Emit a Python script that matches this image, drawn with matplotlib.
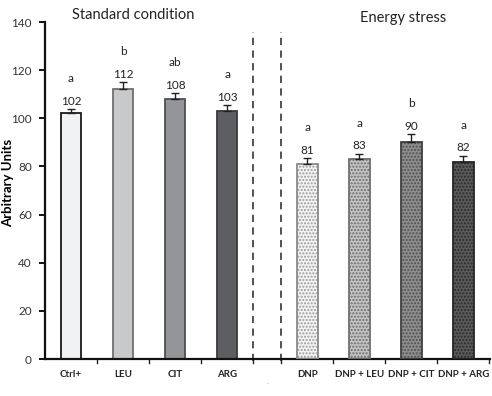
import matplotlib
matplotlib.use("Agg")
import matplotlib.pyplot as plt
import numpy as np

plt.rcParams['font.family'] = ['Lato', 'DejaVu Sans']
plt.rcParams['hatch.linewidth'] = 1.0

categories = ["Ctrl+", "LEU", "CIT", "ARG", "DNP", "DNP + LEU", "DNP + CIT", "DNP + ARG"]
values = [102, 112, 108, 103, 81, 83, 90, 82]
errors = [1.7, 3.0, 2.6, 2.4, 2.4, 2.3, 3.5, 2.5]
letters = ["a", "b", "ab", "a", "a", "a", "b", "a"]
value_labels = ["102", "112", "108", "103", "81", "83", "90", "82"]
yticks = [0, 20, 40, 60, 80, 100, 120, 140]

face_colors = ["#f1f2f4", "#c8c9cb", "#949598", "#5d5e61",
               "#f4f4f4", "#c4c4c4", "#8e8e8e", "#5a5a5a"]
edge_colors = ["#1a1a1a", "#6f6f71", "#505052", "#3a3a3c",
               "#8a8a8a", "#707070", "#404040", "#262626"]
hatch_colors = [None, None, None, None, "#9a9a9a", "#6a6a6a", "#505050", "#2c2c2c"]

x = np.array([0, 1, 2, 3, 4.54, 5.54, 6.54, 7.54])

fig = plt.figure(figsize=(4.92, 3.96), dpi=100)
ax = fig.add_axes([0.0915, 0.0934, 0.905, 0.851])

w = 0.40
for i in range(len(values)):
    if hatch_colors[i] is None:
        ax.bar(x[i], values[i], width=w, color=face_colors[i],
               edgecolor=edge_colors[i], linewidth=1.3, zorder=2)
    else:
        ax.bar(x[i], values[i], width=w, color=face_colors[i],
               edgecolor=hatch_colors[i], linewidth=0, hatch='.....', zorder=2)
        ax.bar(x[i], values[i], width=w, fill=False,
               edgecolor=edge_colors[i], linewidth=1.3, zorder=3)
    ax.errorbar(x[i], values[i], yerr=[[0], [errors[i]]], fmt='none',
                ecolor='#222222', elinewidth=1.0, capsize=3, capthick=1.0, zorder=4)
    ytop = values[i] + errors[i]
    ax.text(x[i], ytop + 3.2, value_labels[i], ha='center', va='center',
            fontsize=8.5, color='#222222')
    ax.text(x[i], ytop + 12.7, letters[i], ha='center', va='center',
            fontsize=8.5, color='#222222')

# dashed separators
for xd in [3.5, 4.04]:
    ax.plot([xd, xd], [-0.8, 136], linestyle=(0, (4, 3)), color='#444444',
            linewidth=1.3, zorder=1, clip_on=False)

ax.set_xlim(-0.5, 8.06)
ax.set_ylim(0, 140)
ax.set_yticks(yticks)
ax.set_yticklabels([str(t) for t in yticks], fontsize=8.5, color='#333333')
ax.set_xticks(x)
ax.set_xticklabels(categories, fontsize=7, fontweight='bold', color='#222222')
ax.tick_params(axis='x', length=0, pad=8)
ax.tick_params(axis='y', length=4, width=1.3, direction='out', pad=5.5)
# x boundary ticks
for xb in [0.5, 1.5, 2.5, 3.5, 4.04, 5.04, 6.04, 7.04, 8.04]:
    ax.plot([xb, xb], [0, -1.6], color='#222222', linewidth=1.0, clip_on=False)
ax.text(3.77, -9.5, '.', ha='center', va='center', fontsize=6, color='#aaaaaa')

for s in ['top', 'right']:
    ax.spines[s].set_visible(False)
ax.spines['left'].set_linewidth(1.6)
ax.spines['bottom'].set_linewidth(1.6)
ax.spines['left'].set_color('#111111')
ax.spines['bottom'].set_color('#111111')

ax.set_ylabel('Arbitrary Units', fontsize=9.5, fontweight='bold', va='center')
ax.yaxis.set_label_coords(-0.083, 0.522)

ax.text(1.19, 143, 'Standard condition', ha='center', va='center', fontsize=10.5,
        color='#222222', clip_on=False)
ax.text(6.38, 141.7, 'Energy stress', ha='center', va='center', fontsize=10.5,
        color='#222222', clip_on=False)

fig.savefig('out.png', dpi=100)
